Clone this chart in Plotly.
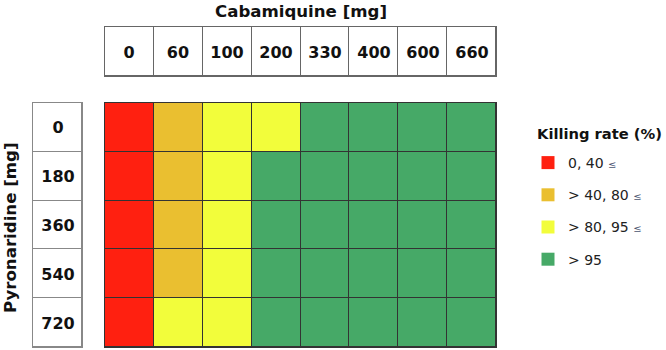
import plotly.graph_objects as go

cabamiquine_mg = ["0", "60", "100", "200", "330", "400", "600", "660"]
pyronaridine_mg = ["0", "180", "360", "540", "720"]
# legend classes: (label, upper bound marker)
legend_title = "Killing rate (%)"
rate_labels = ["0, 40", "> 40, 80", "> 80, 95", "> 95"]
rate_le = [True, True, True, False]
class_colors = ["#FF2010", "#EABF30", "#F2FD3B", "#46A967"]
# killing-rate class index: rows = pyronaridine dose, cols = cabamiquine dose
killing_class = [
    [0, 1, 2, 2, 3, 3, 3, 3],
    [0, 1, 2, 3, 3, 3, 3, 3],
    [0, 1, 2, 3, 3, 3, 3, 3],
    [0, 1, 2, 3, 3, 3, 3, 3],
    [0, 2, 2, 3, 3, 3, 3, 3],
]

W, H = 666, 350
FONT = "DejaVu Sans"

def px_x(a, b):
    return [a / W, b / W]

def px_y(top, bottom):
    return [1 - bottom / H, 1 - top / H]

n = len(class_colors)
colorscale = []
for i, c in enumerate(class_colors):
    colorscale.append([i / n, c])
    colorscale.append([(i + 1) / n, c])

fig = go.Figure()

# main heatmap
fig.add_trace(go.Heatmap(
    x=cabamiquine_mg, y=pyronaridine_mg, z=killing_class,
    zmin=0, zmax=n - 1, colorscale=colorscale, showscale=False,
    xgap=1, ygap=1, hoverinfo="skip", xaxis="x", yaxis="y",
))

# column header boxes
fig.add_trace(go.Heatmap(
    x=cabamiquine_mg, y=["h"], z=[[0] * len(cabamiquine_mg)],
    text=[cabamiquine_mg], texttemplate="%{text}",
    textfont=dict(family=FONT, size=16, color="#111111", weight="bold"),
    colorscale=[[0, "white"], [1, "white"]], showscale=False,
    xgap=1, ygap=1, hoverinfo="skip", xaxis="x2", yaxis="y2",
))

# row header boxes
fig.add_trace(go.Heatmap(
    x=["r"], y=pyronaridine_mg, z=[[0] for _ in pyronaridine_mg],
    text=[[v] for v in pyronaridine_mg], texttemplate="%{text}",
    textfont=dict(family=FONT, size=16, color="#111111", weight="bold"),
    colorscale=[[0, "white"], [1, "white"]], showscale=False,
    xgap=1, ygap=1, hoverinfo="skip", xaxis="x3", yaxis="y3",
))

# legend entries
for i, (lab, le, c) in enumerate(zip(rate_labels, rate_le, class_colors)):
    name = lab + (" <span style='font-size:10px;color:#4a5470'>≤</span>" if le else "")
    fig.add_trace(go.Scatter(
        x=[None], y=[None], mode="markers", name=name,
        marker=dict(symbol="square", size=13, color=c),
        legendgroup=str(i), xaxis="x", yaxis="y", hoverinfo="skip",
    ))

ax_common = dict(showgrid=False, zeroline=False, showticklabels=False,
                 ticks="", showline=True, mirror=True, linewidth=1)

fig.update_layout(
    width=W, height=H,
    margin=dict(l=0, r=0, t=0, b=0),
    paper_bgcolor="white", plot_bgcolor="white",
    xaxis=dict(domain=px_x(105, 496), type="category", range=[-0.5, 7.5],
               linecolor="#333333", **ax_common),
    yaxis=dict(domain=px_y(103, 347), type="category", range=[4.5, -0.5],
               linecolor="#333333", **ax_common),
    xaxis2=dict(domain=px_x(105, 496), type="category", range=[-0.5, 7.5],
                anchor="y2", linecolor="#666666", **ax_common),
    yaxis2=dict(domain=px_y(27, 76), type="category", range=[-0.5, 0.5],
                anchor="x2", linecolor="#666666", **ax_common),
    xaxis3=dict(domain=px_x(33, 82), type="category", range=[-0.5, 0.5],
                anchor="y3", linecolor="#888888", **ax_common),
    yaxis3=dict(domain=px_y(103, 347), type="category", range=[4.5, -0.5],
                anchor="x3", linecolor="#888888", **ax_common),
    shapes=[
        dict(type="rect", xref="x domain", yref="y domain", x0=0, x1=1, y0=0, y1=1,
             fillcolor="#333333", line=dict(width=0), layer="below"),
        dict(type="rect", xref="x2 domain", yref="y2 domain", x0=0, x1=1, y0=0, y1=1,
             fillcolor="#666666", line=dict(width=0), layer="below"),
        dict(type="rect", xref="x3 domain", yref="y3 domain", x0=0, x1=1, y0=0, y1=1,
             fillcolor="#888888", line=dict(width=0), layer="below"),
    ],
    annotations=[
        dict(text="Cabamiquine [mg]", x=(105 + 496) / 2 / W, y=1 - 11 / H,
             xref="paper", yref="paper", showarrow=False, xanchor="center", yanchor="middle",
             font=dict(family=FONT, size=16.6, color="#111111", weight="bold")),
        dict(text="Pyronaridine [mg]", x=10 / W, y=1 - 228 / H, textangle=-90,
             xref="paper", yref="paper", showarrow=False, xanchor="center", yanchor="middle",
             font=dict(family=FONT, size=16.6, color="#111111", weight="bold")),
        dict(text=legend_title, x=535 / W, y=1 - 133 / H,
             xref="paper", yref="paper", showarrow=False, xanchor="left", yanchor="middle",
             font=dict(family=FONT, size=14.7, color="#111111", weight="bold")),
    ],
    legend=dict(
        x=528 / W, y=1 - 147 / H, xanchor="left", yanchor="top",
        font=dict(family=FONT, size=14, color="#222222"),
        tracegroupgap=11, bgcolor="rgba(0,0,0,0)",
    ),
    showlegend=True,
)

fig.write_html("out.html", config={"displayModeBar": False},
               post_script="document.body.style.margin='0';")
